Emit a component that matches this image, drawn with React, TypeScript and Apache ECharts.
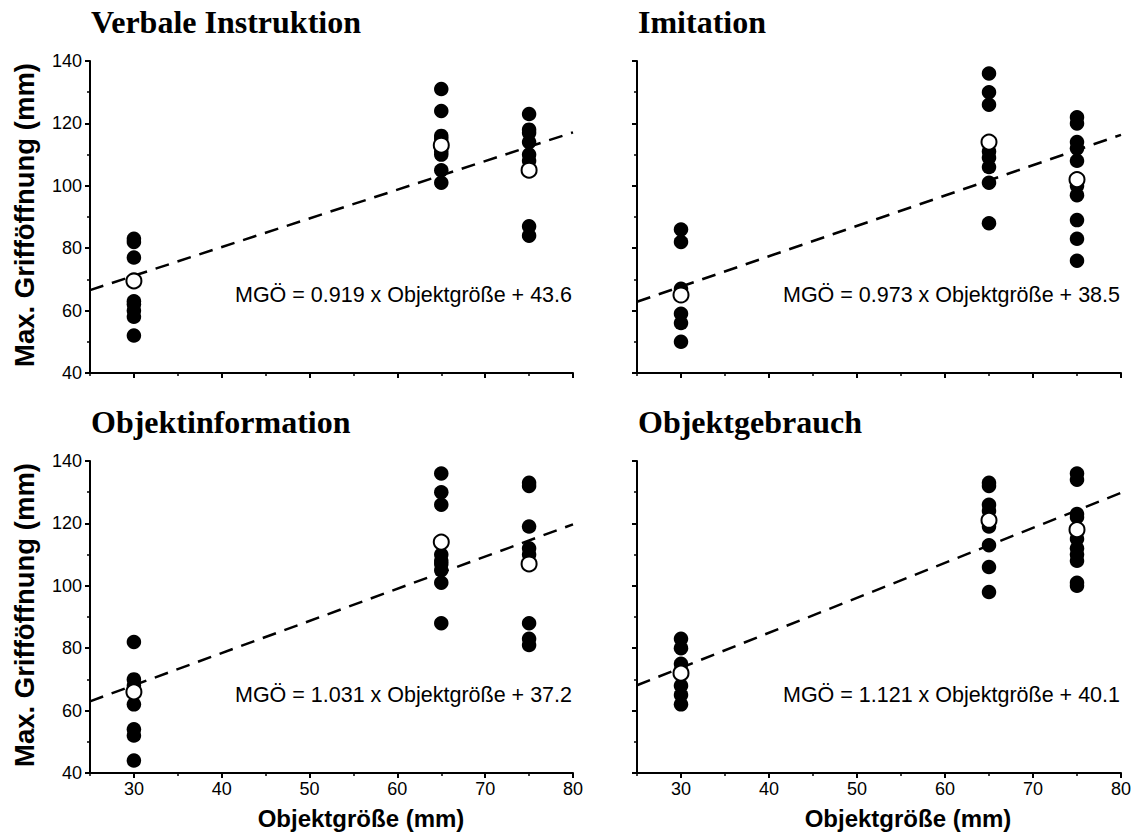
import React, { useEffect, useRef } from "react";
import * as echarts from "echarts";

// ---------- data ----------
const panelTitles = ["Verbale Instruktion", "Imitation", "Objektinformation", "Objektgebrauch"];
const objectSizes = [30, 65, 75];
const xTickValues = [30, 40, 50, 60, 70, 80];
const xMinorTickValues = [25, 35, 45, 55, 65, 75];
const yAxisMin = 40;
const yAxisMax = 140;
const yAxisStep = 20;

// Verbale Instruktion
const verbalAt30 = [83, 82, 77, 63, 62, 60, 58, 52];
const verbalAt65 = [131, 124, 116, 115, 111, 110, 105, 101];
const verbalAt75 = [123, 118, 117, 114, 110, 108, 87, 84];
const verbalMeans = [69.5, 113, 105];

// Imitation
const imitationAt30 = [86, 82, 67, 59, 56, 50];
const imitationAt65 = [136, 130, 126, 111, 109, 106, 101, 88];
const imitationAt75 = [122, 120, 114, 112, 108, 100, 97, 89, 83, 76];
const imitationMeans = [65, 114, 102];

// Objektinformation
const infoAt30 = [82, 70, 68, 62, 54, 52, 44];
const infoAt65 = [136, 130, 126, 110, 108, 107, 105, 101, 88];
const infoAt75 = [133, 132, 119, 112, 110, 88, 83, 81];
const infoMeans = [66, 114, 107];

// Objektgebrauch
const useAt30 = [83, 80, 75, 73, 68, 65, 62];
const useAt65 = [133, 132, 126, 124, 119, 113, 106, 98];
const useAt75 = [136, 134, 123, 122, 115, 112, 110, 108, 101, 100];
const useMeans = [72, 121, 118];

// regression lines (MGÖ = slope x Objektgröße + intercept)
const slopes = [0.919, 0.973, 1.031, 1.121];
const intercepts = [43.6, 38.5, 37.2, 40.1];
const lineRange = [25, 80];
const equationLabels = [
  "MGÖ = 0.919 x Objektgröße + 43.6",
  "MGÖ = 0.973 x Objektgröße + 38.5",
  "MGÖ = 1.031 x Objektgröße + 37.2",
  "MGÖ = 1.121 x Objektgröße + 40.1",
];

const xAxisTitle = "Objektgröße (mm)";
const yAxisTitle = "Max. Grifföffnung (mm)";

const panelPoints = [
  [verbalAt30, verbalAt65, verbalAt75],
  [imitationAt30, imitationAt65, imitationAt75],
  [infoAt30, infoAt65, infoAt75],
  [useAt30, useAt65, useAt75],
];
const panelMeans = [verbalMeans, imitationMeans, infoMeans, useMeans];

// ---------- layout ----------
const SANS = "Liberation Sans, Arial, Helvetica, sans-serif";
const SERIF = "Liberation Serif, Times New Roman, serif";

const grids = [
  { left: 90, top: 61, width: 483, height: 312 },
  { left: 637, top: 61, width: 484, height: 312 },
  { left: 90, top: 461, width: 483, height: 312 },
  { left: 637, top: 461, width: 484, height: 312 },
];

function buildOption() {
  const xAxes: any[] = [];
  const yAxes: any[] = [];
  const series: any[] = [];
  const graphics: any[] = [];

  grids.forEach((g, i) => {
    const isBottom = i >= 2;
    const isLeft = i % 2 === 0;
    xAxes.push({
      type: "value",
      gridIndex: i,
      min: lineRange[0],
      max: lineRange[1],
      position: "bottom",
      axisLine: { show: true, onZero: false, lineStyle: { color: "#000", width: 2 } },
      axisTick: {
        show: true,
        customValues: xTickValues,
        length: 5,
        lineStyle: { color: "#000", width: 2 },
      },
      axisLabel: {
        show: isBottom,
        customValues: xTickValues,
        fontSize: 18,
        color: "#000",
        fontFamily: SANS,
        margin: 7,
      },
      splitLine: { show: false },
    });
    xAxes.push({
      type: "value",
      gridIndex: i,
      min: lineRange[0],
      max: lineRange[1],
      position: "bottom",
      axisLine: { show: false, onZero: false },
      axisTick: {
        show: true,
        customValues: xMinorTickValues,
        length: 3,
        lineStyle: { color: "#000", width: 1.5 },
      },
      axisLabel: { show: false },
      splitLine: { show: false },
    });
    yAxes.push({
      type: "value",
      gridIndex: i,
      min: yAxisMin,
      max: yAxisMax,
      interval: yAxisStep,
      axisLine: { show: true, onZero: false, lineStyle: { color: "#000", width: 2 } },
      axisTick: { show: true, length: 5, lineStyle: { color: "#000", width: 2 } },
      minorTick: { show: true, splitNumber: 2, length: 3, lineStyle: { color: "#000", width: 1.5 } },
      axisLabel: {
        show: isLeft,
        fontSize: 18,
        color: "#000",
        fontFamily: SANS,
        margin: 8,
      },
      splitLine: { show: false },
      minorSplitLine: { show: false },
    });

    const pts: number[][] = [];
    objectSizes.forEach((x, j) => {
      panelPoints[i][j].forEach((v) => pts.push([x, v]));
    });
    const meanPts = objectSizes.map((x, j) => [x, panelMeans[i][j]]);
    const linePts = lineRange.map((x) => [x, slopes[i] * x + intercepts[i]]);

    series.push({
      type: "line",
      xAxisIndex: 2 * i,
      yAxisIndex: i,
      data: linePts,
      showSymbol: false,
      symbol: "none",
      lineStyle: { color: "#000", width: 2.5, type: [14, 9] },
      z: 1,
      silent: true,
    });
    series.push({
      type: "scatter",
      xAxisIndex: 2 * i,
      yAxisIndex: i,
      data: pts,
      symbol: "circle",
      symbolSize: 14.5,
      itemStyle: { color: "#000", opacity: 1 },
      z: 2,
    });
    series.push({
      type: "scatter",
      xAxisIndex: 2 * i,
      yAxisIndex: i,
      data: meanPts,
      symbol: "circle",
      symbolSize: 15,
      itemStyle: { color: "#fff", borderColor: "#000", borderWidth: 2, opacity: 1 },
      z: 3,
    });

    // panel title
    graphics.push({
      type: "text",
      x: g.left + 1,
      y: g.top - 39,
      style: {
        text: panelTitles[i],
        fontFamily: SERIF,
        fontWeight: "bold",
        fontSize: 32,
        fill: "#000",
        align: "left",
        verticalAlign: "middle",
        textAlign: "left",
        textVerticalAlign: "middle",
      },
    });
    // regression equation
    graphics.push({
      type: "text",
      x: g.left + g.width - 1,
      y: g.top + 233.5,
      style: {
        text: equationLabels[i],
        fontFamily: SANS,
        fontSize: 21.5,
        fill: "#000",
        align: "right",
        verticalAlign: "middle",
        textAlign: "right",
        textVerticalAlign: "middle",
      },
    });
    if (isBottom) {
      graphics.push({
        type: "text",
        x: g.left + 271,
        y: 818.5,
        style: {
          text: xAxisTitle,
          fontFamily: SANS,
          fontWeight: "bold",
          fontSize: 24,
          fill: "#000",
          align: "center",
          verticalAlign: "middle",
          textAlign: "center",
          textVerticalAlign: "middle",
        },
      });
    }
    if (isLeft) {
      graphics.push({
        type: "text",
        x: 24,
        y: g.top + 154,
        rotation: Math.PI / 2,
        style: {
          text: yAxisTitle,
          fontFamily: SANS,
          fontWeight: "bold",
          fontSize: 27.5,
          fill: "#000",
          align: "center",
          verticalAlign: "middle",
          textAlign: "center",
          textVerticalAlign: "middle",
        },
      });
    }
  });

  return {
    animation: false,
    backgroundColor: "#fff",
    grid: grids.map((g) => ({ ...g, containLabel: false })),
    xAxis: xAxes,
    yAxis: yAxes,
    series,
    graphic: graphics,
  };
}

export default function App() {
  const ref = useRef<HTMLDivElement | null>(null);
  useEffect(() => {
    if (!ref.current) return;
    const chart = echarts.init(ref.current, null, { renderer: "svg" });
    chart.setOption(buildOption() as any);
    return () => chart.dispose();
  }, []);
  return (
    <div
      ref={ref}
      style={{ position: "absolute", left: 0, top: 0, width: 1139, height: 834, background: "#fff" }}
    />
  );
}
